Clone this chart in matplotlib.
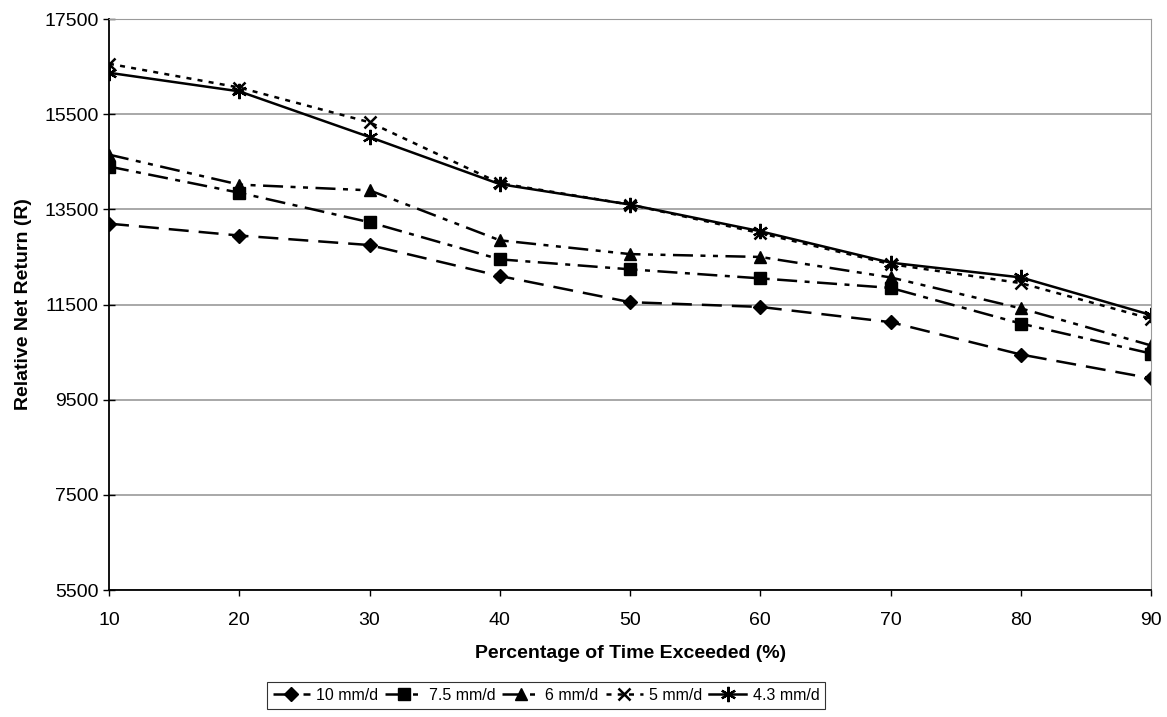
import matplotlib
matplotlib.use("Agg")
import matplotlib.pyplot as plt

plt.rcParams['font.family'] = ['Liberation Sans', 'DejaVu Sans']

pct = [10, 20, 30, 40, 50, 60, 70, 80, 90]
r10 = [13200, 12950, 12750, 12100, 11550, 11450, 11130, 10450, 9950]
r75 = [14400, 13850, 13230, 12450, 12240, 12050, 11850, 11100, 10470]
r6 = [14650, 14020, 13900, 12850, 12560, 12500, 12070, 11420, 10640]
r5 = [16560, 16060, 15330, 14050, 13600, 13000, 12350, 11950, 11200]
r43 = [16370, 15980, 15020, 14030, 13600, 13040, 12380, 12070, 11280]

fig = plt.figure(figsize=(11.67, 7.17), dpi=100)
ax = fig.add_axes([0.0934, 0.177, 0.893, 0.7965])

kw = dict(color='black', lw=1.8, markersize=8)
ax.plot(pct, r10, marker='D', markersize=7, linestyle=(0, (8, 4)), label='10 mm/d',
        color='black', lw=1.8)
ax.plot(pct, r75, marker='s', linestyle=(0, (8, 3, 2, 3)), label='7.5 mm/d', **kw)
ax.plot(pct, r6, marker='^', linestyle=(0, (8, 3, 2, 3, 2, 3)), label='6 mm/d', **kw)
ax.plot(pct, r5, marker='x', linestyle=(0, (2, 2.5)), label='5 mm/d', mew=1.8,
        color='black', lw=1.8, markersize=9)
ax.plot(pct, r43, marker=(6, 2, 0), linestyle='-', label='4.3 mm/d', mew=1.6,
        color='black', lw=1.8, markersize=11)

ax.set_xlim(10, 90)
ax.set_ylim(5500, 17500)
ax.set_xticks(pct)
ax.set_yticks(range(5500, 17501, 2000))
ax.yaxis.grid(True, color='#9a9a9a', lw=1.2)
ax.set_axisbelow(True)
ax.tick_params(axis='y', labelsize=14, direction='inout', length=8, width=1)
ax.tick_params(axis='x', labelsize=14, direction='out', length=4, width=1, pad=12)

for s in ['top', 'right']:
    ax.spines[s].set_color('#9a9a9a')
ax.spines['left'].set_linewidth(1.3)
ax.spines['bottom'].set_linewidth(1.3)

ax.set_xlabel('Percentage of Time Exceeded (%)', fontsize=14, fontweight='bold', labelpad=11)
ax.set_ylabel('Relative Net Return (R)', fontsize=14, fontweight='bold', labelpad=9)

leg = fig.legend(loc='center', bbox_to_anchor=(0.468, 0.03), ncol=5, fontsize=11.5,
                 frameon=True, fancybox=False, edgecolor='black', handlelength=2.3,
                 handletextpad=0.4, columnspacing=0.45, borderpad=0.35, borderaxespad=0)
leg.get_frame().set_linewidth(0.8)

fig.savefig('out.png', dpi=100)
